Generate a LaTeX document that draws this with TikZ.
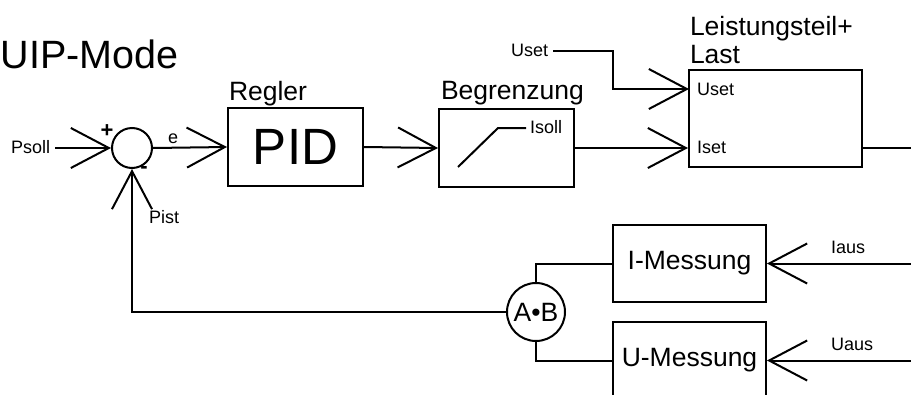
\documentclass[tikz,border=0pt]{standalone}
\usepackage{fontspec}
\setmainfont{Liberation Sans}
\usetikzlibrary{arrows.meta,calc}
\begin{document}
\begin{tikzpicture}[x=1pt,y=-1pt,line width=2pt,
  arr/.style={-{Straight Barb[length=38pt,width=40pt]}},
  blk/.style={draw,rectangle,inner sep=0pt},
  sml/.style={inner sep=0pt,font=\fontsize{18}{21}\selectfont},
  mid/.style={inner sep=0pt,font=\fontsize{26.5}{29}\selectfont},
  big/.style={inner sep=0pt,font=\fontsize{39.5}{42}\selectfont}]
\useasboundingbox (0,0) rectangle (911,394);
\clip (0,0) rectangle (911,394);
% title
\node[big,anchor=base west] (title) at (0,68) {UIP-Mode};
% blocks
\node[draw,circle,minimum size=40pt,inner sep=0pt] (sum) at (132,148) {};
\node[blk,minimum width=135pt,minimum height=78pt,font=\fontsize{51}{55}\selectfont] (pid) at (295.5,147) {PID};
\node[blk,minimum width=135pt,minimum height=78pt] (begr) at (506.5,148) {};
\node[blk,minimum width=173pt,minimum height=97pt] (last) at (775.5,118.5) {};
\node[blk,mid,minimum width=153pt,minimum height=77pt] (imess) at (689.5,263.5) {I-Messung};
\node[blk,mid,minimum width=153pt,minimum height=77pt] (umess) at (689.5,360.5) {U-Messung};
\node[draw,circle,minimum size=58pt,mid] (mult) at (536,312) {A\textbullet B};
% labels
\node[mid,anchor=base west] (lregler) at (228,100) {Regler};
\node[mid,anchor=base west] (lbegr) at (440,99) {Begrenzung};
\node[mid,anchor=base west] (llast1) at (689,35) {Leistungsteil+};
\node[mid,anchor=base west] (llast2) at (689,63) {Last};
\node[sml,anchor=base west] (psoll) at (10,153) {Psoll};
\node[sml,anchor=base west] (usetout) at (510,56) {Uset};
\node[sml,anchor=base west] (usetlbl) at (696,95) {Uset};
\node[sml,anchor=base west] (isetlbl) at (696,153) {Iset};
\node[sml,anchor=base west] (isoll) at (529,133) {Isoll};
\node[sml,anchor=base west] (iaus) at (830,253) {Iaus};
\node[sml,anchor=base west] (uaus) at (830,350) {Uaus};
\node[sml,anchor=base west] (elbl) at (167,143) {e};
\node[sml,anchor=base west] (pist) at (148,223) {Pist};
\node[inner sep=0pt,font=\fontsize{22}{24}\selectfont\bfseries] (plus) at (107,131) {+};
\node[inner sep=0pt,font=\fontsize{22}{24}\selectfont\bfseries] (minus) at (144,170) {-};
% coordinates
\coordinate (usetbend) at (613,89);
\coordinate (usetin) at (689,89);
\coordinate (outend) at (911,148);
\coordinate (iausin) at (911,263.5);
\coordinate (uausin) at (911,360.5);
\coordinate (lim1) at (458,167);
\coordinate (lim2) at (498,128);
\coordinate (lim3) at (526,128);
% connectors
\draw[arr] ([xshift=4pt]psoll.east |- sum.west) -- (sum.west);
\draw[arr] (sum.east) -- (pid.west);
\draw[arr] (pid.east) -- (begr.west);
\draw[arr] (begr.east) -- (begr.east -| last.west);
\draw[arr] ([xshift=4pt]usetout.east |- 0,50.5) -| (usetbend) -- (usetin);
\draw (last.east |- outend) -- (outend);
\draw[arr] (iausin) -- (imess.east);
\draw[arr] (uausin) -- (umess.east);
\draw (imess.west) -| (mult.north);
\draw (umess.west) -| (mult.south);
\draw[arr] (mult.west) -| (sum.south);
\draw (lim1) -- (lim2) -- (lim3);
\end{tikzpicture}
\end{document}
